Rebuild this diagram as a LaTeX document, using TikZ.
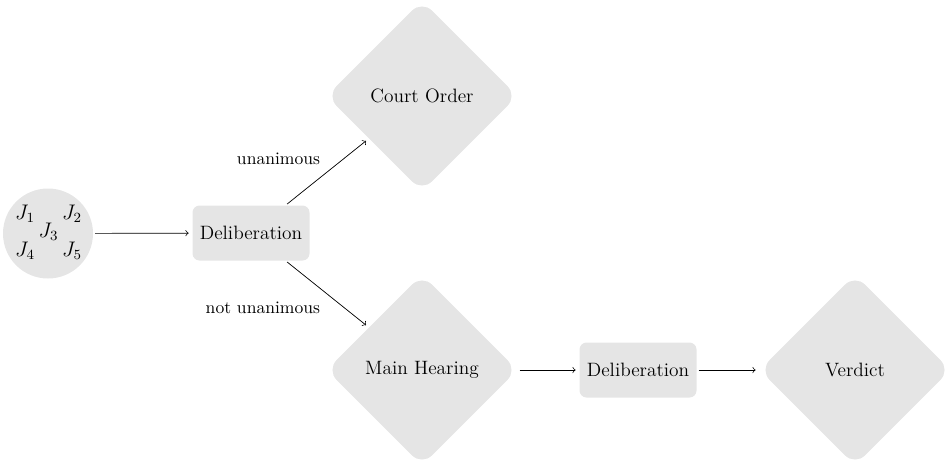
\documentclass[tikz,border=0pt]{standalone}
\usepackage{amssymb}
\usetikzlibrary{shapes.geometric,positioning}

\begin{document}
\begin{tikzpicture}[
  judges/.style={circle, fill=black!10, minimum size=1.8cm, inner sep=0pt},
  judge/.style={font=\fontsize{12}{14}\selectfont},
  talk/.style={rectangle, rounded corners=4pt, fill=black!10, minimum width=2.34cm, minimum height=1.1cm, font=\fontsize{11}{13}\selectfont},
  outcome/.style={diamond, aspect=1, rounded corners=8pt, fill=black!10, minimum size=3.82cm, inner sep=0pt, font=\fontsize{11}{13}\selectfont},
  flow/.style={->, shorten >=2pt, shorten <=1pt},
  vote/.style={font=\fontsize{10}{12}\selectfont}
  ]
\useasboundingbox (0,0) rectangle (18.92,-9.26);

% the panel of judges
\node [judges] (panel) at (0.96,-4.67) {};
\node [judge] (j1) at (0.5,-4.27) {$J_1$}; \node [judge] (j2) at (1.44,-4.27) {$J_2$};
\node [judge] (j3) at (0.97,-4.63) {$J_3$};
\node [judge] (j4) at (0.5,-5.02) {$J_4$}; \node [judge] (j5) at (1.44,-5.02) {$J_5$};

\node [talk] (delib) at (5.02,-4.66) {Deliberation};
\node [outcome] (order) at (8.44,-1.92) {Court Order};
\node [outcome] (hearing) at (8.44,-7.4) {Main Hearing};
\node [talk] (delibtwo) at (12.76,-7.4) {Deliberation};
\node [outcome] (verdict) at (17.1,-7.4) {Verdict};

\draw [flow] (panel) -- (delib);
\draw [flow] (delib) -- (order) node [vote, pos=0.7, left=10pt] {unanimous};
\draw [flow] (delib) -- (hearing) node [vote, pos=0.7, left=10pt] {not unanimous};
\draw [flow] (hearing) -- (delibtwo);
\draw [flow] (delibtwo) -- (verdict);

\end{tikzpicture}
\end{document}
